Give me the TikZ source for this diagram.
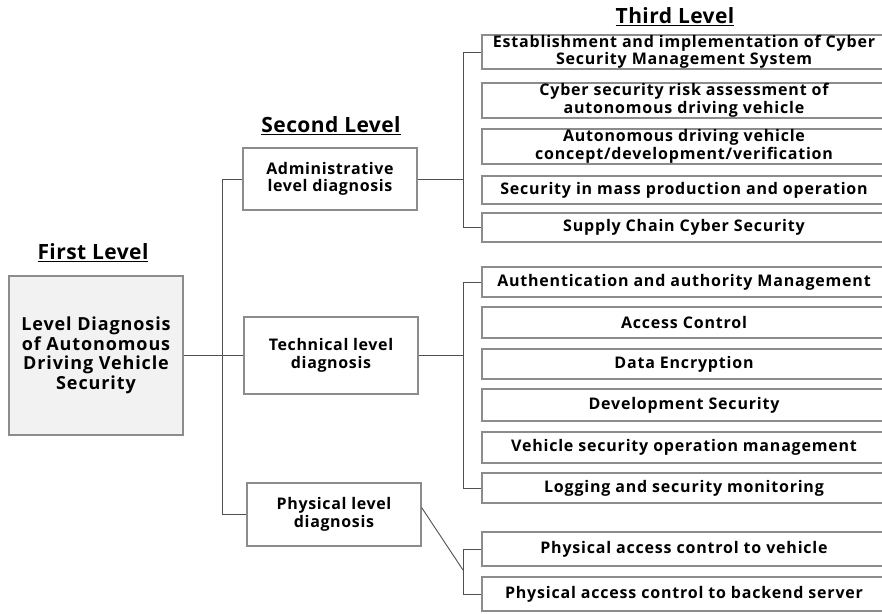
\documentclass[tikz,border=0pt]{standalone}
\usepackage{fontspec}
\setmainfont{Open Sans}

\definecolor{boxgray}{HTML}{8C8C8C}
\definecolor{linegray}{HTML}{505050}
\definecolor{topfill}{HTML}{F2F2F2}

\tikzset{
  box/.style={draw=boxgray, line width=1.2pt, inner sep=0pt, align=center,
    font=\bfseries\fontsize{16}{17.5}\selectfont\addfontfeatures{LetterSpace=5}},
  topbox/.style={box, fill=topfill, minimum width=174pt, minimum height=159pt,
    font=\bfseries\fontsize{18}{19.5}\selectfont\addfontfeatures{LetterSpace=5}},
  midbox/.style={box, minimum width=174pt,
    font=\bfseries\fontsize{16}{17.5}\selectfont\addfontfeatures{LetterSpace=4}},
  leafbox/.style={box, minimum width=404pt},
  heading/.style={font=\bfseries\fontsize{21}{24}\selectfont\addfontfeatures{LetterSpace=2}},
  link/.style={draw=linegray, line width=0.9pt}
}

\begin{document}
\begin{tikzpicture}[x=1pt,y=-1pt]
\useasboundingbox (0,0) rectangle (882,613);
\clip (0,0) rectangle (882,613);

% level headings
\node[heading] (h1) at (93,253) {\underline{First Level}};
\node[heading] (h2) at (331,126) {\underline{Second Level}};
\node[heading] (h3) at (675,17) {\underline{Third Level}};

% first and second level
\node[topbox] (root) at (96,355.5) {Level Diagnosis\\of Autonomous\\Driving Vehicle\\Security};
\node[midbox, minimum height=62pt] (adm) at (330,179) {Administrative\\level diagnosis};
\node[midbox, minimum height=77pt] (tech) at (331,355.5) {Technical level\\diagnosis};
\node[midbox, minimum height=63pt] (phys) at (334,514.5) {Physical level\\diagnosis};

% third level, administrative
\node[leafbox, minimum height=34pt] (a1) at (684,52) {Establishment and implementation of Cyber\\Security Management System};
\node[leafbox, minimum height=35pt] (a2) at (684,100.5) {Cyber security risk assessment of\\autonomous driving vehicle};
\node[leafbox, minimum height=35pt] (a3) at (684,146.5) {Autonomous driving vehicle\\concept/development/verification};
\node[leafbox, minimum height=28pt] (a4) at (684,190) {Security in mass production and operation};
\node[leafbox, minimum height=29pt] (a5) at (684,227.5) {Supply Chain Cyber Security};

% third level, technical
\node[leafbox, minimum height=30pt] (t1) at (684,282) {Authentication and authority Management};
\node[leafbox, minimum height=31pt] (t2) at (684,322.5) {Access Control};
\node[leafbox, minimum height=30pt] (t3) at (684,364) {Data Encryption};
\node[leafbox, minimum height=32pt] (t4) at (684,405) {Development Security};
\node[leafbox, minimum height=31pt] (t5) at (684,447.5) {Vehicle security operation management};
\node[leafbox, minimum height=30pt] (t6) at (684,488) {Logging and security monitoring};

% third level, physical
\node[leafbox, minimum height=34pt] (p1) at (684,549) {Physical access control to vehicle};
\node[leafbox, minimum height=34pt] (p2) at (684,594) {Physical access control to backend server};

% connectors
\coordinate (sp) at (222,0);
\coordinate (ja) at (463,0);
\coordinate (pj) at (463,570);

\draw[link] (root.east) -- (tech.west);
\draw[link] (adm.west) -- (adm.west -| sp) -- (phys.west -| sp) -- (phys.west);

\draw[link] (adm.east) -- (adm.east -| ja);
\draw[link] (a1.west) -- (a1.west -| ja) -- (a5.west -| ja) -- (a5.west);

\draw[link] (tech.east) -- (tech.east -| ja);
\draw[link] (t1.west) -- (t1.west -| ja) -- (t6.west -| ja) -- (t6.west);

\draw[link] ([yshift=7pt]phys.east) -- (pj);
\draw[link] (p1.west) -- (p1.west -| ja) -- (p2.west -| ja) -- (p2.west);
\end{tikzpicture}
\end{document}
